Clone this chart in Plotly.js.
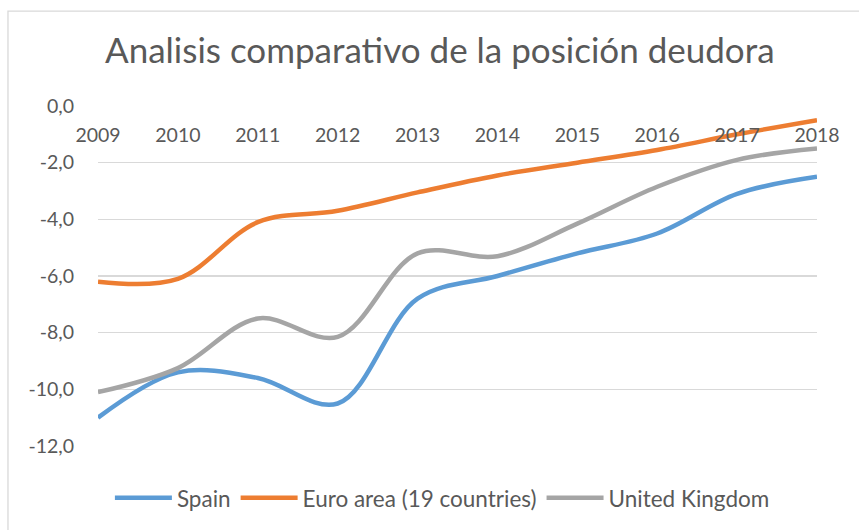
<!DOCTYPE html>
<html>
<head>
<meta charset="utf-8">
<script src="https://cdn.plot.ly/plotly-3.0.1.min.js"></script>
<style>html,body{margin:0;padding:0;background:#fff;}#chart{width:859px;height:530px;}</style>
</head>
<body>
<div id="chart"></div>
<script>
var years = [2009, 2010, 2011, 2012, 2013, 2014, 2015, 2016, 2017, 2018];
var spain = [-11.0, -9.4, -9.6, -10.5, -6.8, -6.0, -5.2, -4.5, -3.1, -2.5];
var euroArea = [-6.2, -6.1, -4.1, -3.7, -3.05, -2.45, -2.0, -1.55, -1.0, -0.5];
var unitedKingdom = [-10.1, -9.25, -7.5, -8.15, -5.2, -5.3, -4.15, -2.85, -1.9, -1.5];
var seriesNames = ['Spain', 'Euro area (19 countries)', 'United Kingdom'];
var yTickVals = [0, -2, -4, -6, -8, -10, -12];
var yTickText = ['0,0', '-2,0', '-4,0', '-6,0', '-8,0', '-10,0', '-12,0'];
var xTickText = years.map(String);

var colors = ['#5B9BD5', '#ED7D31', '#A5A5A5'];
var values = [spain, euroArea, unitedKingdom];
var font = 'Lato, "Open Sans", sans-serif';

var traces = values.map(function (v, i) {
  return {
    x: years, y: v, name: seriesNames[i], type: 'scatter', mode: 'lines',
    line: {color: colors[i], width: 4.5, shape: 'spline', smoothing: 1}
  };
});

var layout = {
  width: 859, height: 530,
  margin: {l: 98, r: 42, t: 106, b: 84, autoexpand: false},
  paper_bgcolor: '#fff', plot_bgcolor: '#fff',
  font: {family: font, color: '#595959', size: 19},
  title: {text: 'Analisis comparativo de la posición deudora', font: {family: font, size: 35, color: '#595959'},
          x: 0.512, xanchor: 'center', y: 0.905, yanchor: 'middle'},
  showlegend: true,
  legend: {orientation: 'h', x: 0.479, xanchor: 'center', y: -0.09, yanchor: 'top', itemwidth: 57,
           font: {family: font, size: 22.5, color: '#595959'}, traceorder: 'normal'},
  xaxis: {
    range: [2009, 2018], tickvals: years, ticktext: xTickText,
    showgrid: false, zeroline: false, showline: false, ticks: '',
    anchor: 'free', position: 1, side: 'bottom', ticklabelstandoff: 15,
    tickfont: {family: font, size: 19.5, color: '#595959'}
  },
  yaxis: {
    range: [-12, 0], tickvals: yTickVals, ticktext: yTickText,
    showgrid: true, gridcolor: '#D9D9D9', gridwidth: 1.3,
    zeroline: false, showline: false, ticks: '', ticklabelstandoff: 23,
    tickfont: {family: font, size: 19.5, color: '#595959'}
  },
  shapes: [{type: 'rect', xref: 'paper', yref: 'paper', x0: -0.1252, x1: 1.3, y0: -0.6, y1: 1.279,
            line: {color: '#D9D9D9', width: 1.3}, fillcolor: 'rgba(0,0,0,0)', layer: 'below'}]
};

Plotly.newPlot('chart', traces, layout, {displayModeBar: false, staticPlot: true});
</script>
</body>
</html>
